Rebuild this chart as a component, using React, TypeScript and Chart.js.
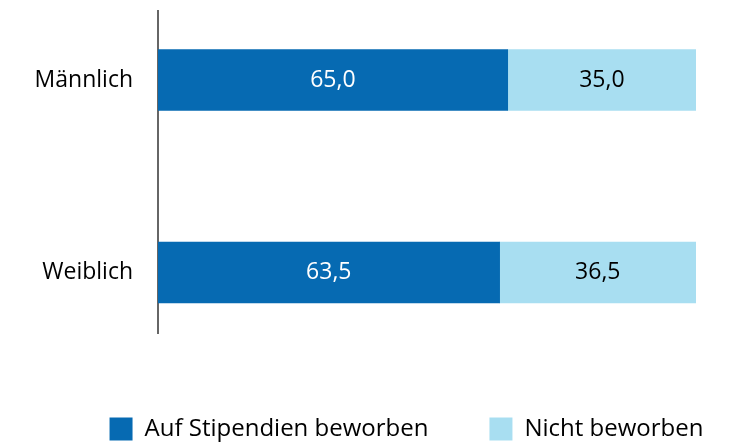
import React, { useEffect, useRef } from "react";
import { Chart, registerables } from "chart.js";

Chart.register(...registerables);

const categories = ["Männlich", "Weiblich"];
const seriesNames = ["Auf Stipendien beworben", "Nicht beworben"];
const appliedValues = [65.0, 63.5];
const notAppliedValues = [35.0, 36.5];
const seriesColors = ["#066AB2", "#A8DEF1"];
const labelColors = ["#FFFFFF", "#000000"];

const FONT = "'Open Sans', 'Noto Sans', sans-serif";

const valueLabelPlugin = {
  id: "valueLabels",
  afterDatasetsDraw(chart: any) {
    const ctx = chart.ctx;
    ctx.save();
    ctx.font = `23px ${FONT}`;
    ctx.textAlign = "center";
    ctx.textBaseline = "middle";
    chart.data.datasets.forEach((ds: any, di: number) => {
      const meta = chart.getDatasetMeta(di);
      meta.data.forEach((el: any, i: number) => {
        const v = ds.data[i].x as number;
        const cx = (el.x + el.base) / 2;
        ctx.fillStyle = labelColors[di];
        ctx.fillText(v.toFixed(1).replace(".", ","), cx, el.y);
      });
    });
    ctx.restore();
  },
};

export default function App() {
  const canvasRef = useRef<HTMLCanvasElement | null>(null);

  useEffect(() => {
    if (!canvasRef.current) return;
    Chart.defaults.font.family = FONT;
    const chart = new Chart(canvasRef.current, {
      type: "bar",
      data: {
        datasets: [
          {
            label: seriesNames[0],
            data: appliedValues.map((v, i) => ({ x: v, y: i })),
            backgroundColor: seriesColors[0],
            borderWidth: 0,
            barThickness: 61,
          },
          {
            label: seriesNames[1],
            data: notAppliedValues.map((v, i) => ({ x: v, y: i })),
            backgroundColor: seriesColors[1],
            borderWidth: 0,
            barThickness: 61,
          },
        ],
      },
      options: {
        indexAxis: "y",
        animation: false,
        responsive: true,
        maintainAspectRatio: false,
        events: [],
        layout: { padding: { top: 3, left: 0, right: 0, bottom: 0 } },
        scales: {
          x: {
            type: "linear",
            stacked: true,
            min: 0,
            max: 100,
            display: true,
            grid: { display: false, drawTicks: false },
            border: { display: false },
            ticks: { display: false },
            afterFit: (s: any) => {
              s.height = 23;
              s.paddingLeft = 0;
              s.paddingRight = 0;
            },
          },
          y: {
            type: "linear",
            stacked: true,
            reverse: true,
            offset: false,
            min: -0.3584,
            max: 1.3143,
            grid: { display: false, drawTicks: false, offset: false },
            border: { display: true, color: "#666666", width: 2 },
            afterBuildTicks: (s: any) => {
              s.ticks = categories.map((_, i) => ({ value: i }));
            },
            afterFit: (s: any) => {
              s.width = 150;
              s.paddingTop = 0;
              s.paddingBottom = 0;
            },
            ticks: {
              padding: 25,
              color: "#000000",
              font: { size: 23, family: FONT },
              callback: (v: any) => categories[Math.round(Number(v))] ?? "",
            },
          },
          y2: {
            type: "linear",
            axis: "y",
            position: "right",
            display: true,
            grid: { display: false, drawTicks: false },
            border: { display: false },
            ticks: { display: false },
            afterFit: (s: any) => {
              s.width = 109;
              s.paddingTop = 0;
              s.paddingBottom = 0;
            },
          },
        },
        plugins: {
          legend: {
            display: true,
            position: "bottom",
            align: "center",
            labels: {
              color: "#000000",
              font: { size: 24, family: FONT },
              boxWidth: 23,
              boxHeight: 23,
              padding: 61,
            },
          },
          tooltip: { enabled: false },
          title: { display: false },
        },
      },
      plugins: [valueLabelPlugin],
    } as any);
    return () => chart.destroy();
  }, []);

  return (
    <div style={{ height: 436, overflow: "hidden" }}>
      <div style={{ position: "relative", height: 443, width: 797 }}>
        <canvas ref={canvasRef} />
      </div>
    </div>
  );
}
